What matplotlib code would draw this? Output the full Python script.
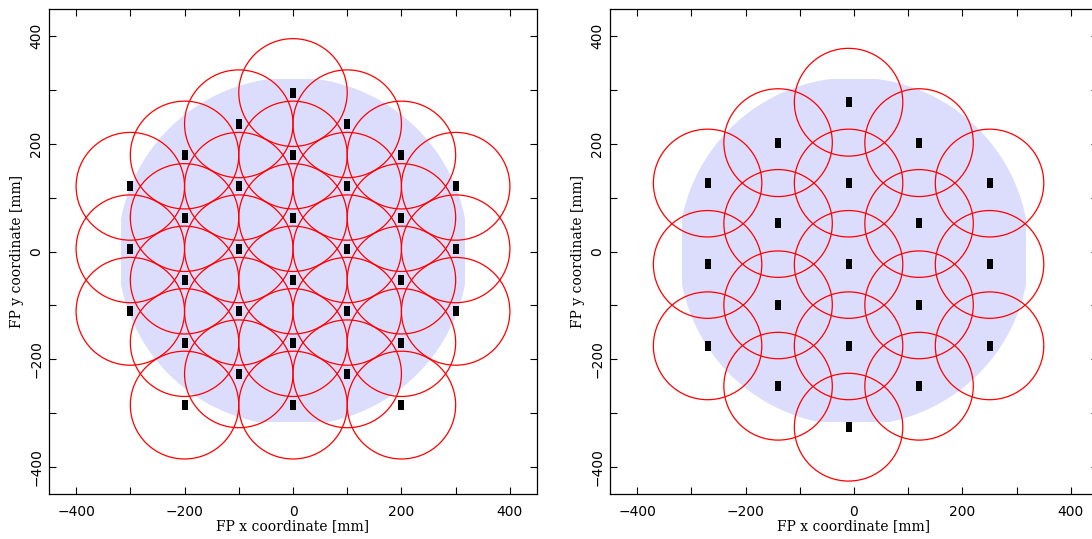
import matplotlib
matplotlib.use('Agg')
import matplotlib.pyplot as plt
from matplotlib.patches import Circle, Rectangle
from matplotlib.path import Path

# centres of the 32 fields, left panel (rows from top to bottom)
left_row_y = [295, 237, 179, 121, 63, 5, -53, -111, -169, -227, -285]
left_row_x = [[0], [-100, 100], [-200, 0, 200], [-300, -100, 100, 300],
              [-200, 0, 200], [-300, -100, 100, 300], [-200, 0, 200],
              [-300, -100, 100, 300], [-200, 0, 200], [-100, 100],
              [-200, 0, 200]]

# centres of the 19 fields, right panel
right_row_y = [277, 202, 127, 52, -24, -99, -175, -250, -326]
right_row_x = [[-10], [-140, 120], [-270, -10, 250], [-140, 120],
               [-270, -10, 250], [-140, 120], [-270, -10, 250], [-140, 120],
               [-10]]

field_radius = 100
fp_radius = 323
fp_box = (-317, -316, 318, 320)   # xmin, ymin, xmax, ymax of the sampled area

ticks = [-400, -200, 0, 200, 400]
minor_ticks = [-300, -100, 100, 300]

fig = plt.figure(figsize=(10.92, 5.39), dpi=100)
ax1 = fig.add_axes([49 / 1092, 45 / 539, 488 / 1092, 485 / 539])
ax2 = fig.add_axes([610 / 1092, 45 / 539, 488 / 1092, 485 / 539])

marker = Path([(-3, -4), (3, -4), (3, 4), (-3, 4), (-3, -4)],
              [Path.MOVETO, Path.LINETO, Path.LINETO, Path.LINETO, Path.CLOSEPOLY])


def flatten(rows_x, rows_y):
    xs, ys = [], []
    for row, y in zip(rows_x, rows_y):
        for x in row:
            xs.append(x)
            ys.append(y)
    return xs, ys


for ax, rows_x, rows_y in [(ax1, left_row_x, left_row_y), (ax2, right_row_x, right_row_y)]:
    # sampled focal plane area (light blue dotted region)
    fp = Circle((0, 0), fp_radius, facecolor='#dcdcfd', edgecolor='none', lw=0, zorder=1)
    ax.add_patch(fp)
    clip = Rectangle((fp_box[0], fp_box[1]), fp_box[2] - fp_box[0], fp_box[3] - fp_box[1],
                     transform=ax.transData)
    fp.set_clip_path(clip)

    xs, ys = flatten(rows_x, rows_y)
    for x, y in zip(xs, ys):
        ax.add_patch(Circle((x, y), field_radius, facecolor='none',
                            edgecolor='#ff0000', lw=0.9, zorder=2))
    ax.plot(xs, ys, linestyle='none', marker=marker, markersize=6.5,
            color='black', markeredgewidth=0, zorder=3)

    ax.set_xlim(-450, 450)
    ax.set_ylim(-450, 450)
    ax.set_xticks(ticks)
    ax.set_yticks(ticks)
    ax.set_xticks(minor_ticks, minor=True)
    ax.set_yticks(minor_ticks, minor=True)
    ax.tick_params(which='both', direction='in', top=True, right=True,
                   length=5, width=0.8, color='black')
    ax.tick_params(axis='x', pad=8, labelsize=10)
    ax.tick_params(axis='y', pad=4, labelsize=10, labelrotation=90)
    for lab in ax.get_yticklabels():
        lab.set_verticalalignment('center')
    for sp in ax.spines.values():
        sp.set_linewidth(0.9)
        sp.set_color('black')

    ax.set_xlabel('FP x coordinate [mm]', family='DejaVu Serif', fontsize=10)
    ax.set_ylabel('FP y coordinate [mm]', family='DejaVu Serif', fontsize=10)
    ax.xaxis.set_label_coords(0.5, -0.052)
    ax.yaxis.set_label_coords(-0.052, 0.5)

fig.savefig('out.png', dpi=100)
